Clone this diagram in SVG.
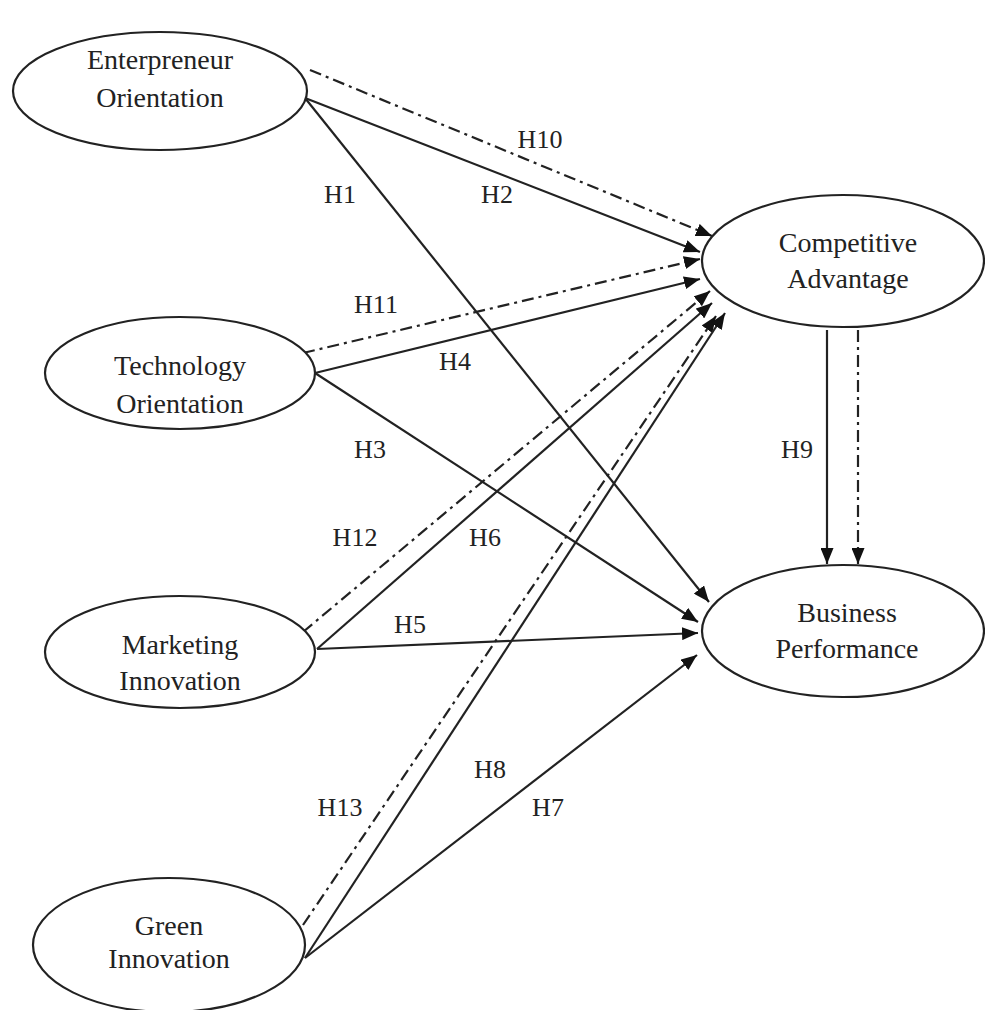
<svg xmlns="http://www.w3.org/2000/svg" width="985" height="1010" viewBox="0 0 985 1010">
<style>
.node ellipse{fill:#fff;stroke:#222;stroke-width:2.2}
.node text{font-family:"Liberation Serif","Times New Roman",serif;font-size:28px;fill:#222;text-anchor:middle}
.lbl{font-family:"Liberation Serif","Times New Roman",serif;font-size:26px;fill:#222;text-anchor:middle}
.s{stroke:#222;stroke-width:2.2;fill:none;marker-end:url(#ah)}
.d{stroke:#222;stroke-width:2.2;fill:none;stroke-dasharray:12 5 3 5;marker-end:url(#ah)}
</style>
<defs>
<marker id="ah" markerUnits="userSpaceOnUse" markerWidth="17" markerHeight="13" refX="16" refY="6.5" orient="auto" viewBox="0 0 17 13">
<path d="M0,0 L16,6.5 L0,13 z" fill="#111"/>
</marker>
</defs>
<rect width="985" height="1010" fill="#fff"/>
<g id="connectors">
<line class="d" x1="310" y1="70" x2="712" y2="236"/>
<line class="s" x1="305" y1="98" x2="700" y2="252"/>
<line class="s" x1="305" y1="98" x2="709" y2="602"/>
<line class="d" x1="303" y1="353" x2="700" y2="259"/>
<line class="s" x1="315" y1="373" x2="700" y2="279"/>
<line class="s" x1="315" y1="373" x2="698" y2="622"/>
<line class="d" x1="303" y1="632" x2="710" y2="291"/>
<line class="s" x1="317" y1="649" x2="712" y2="303"/>
<line class="s" x1="317" y1="649" x2="698" y2="633"/>
<line class="d" x1="303" y1="925" x2="716" y2="316"/>
<line class="s" x1="305" y1="958" x2="725" y2="313"/>
<line class="s" x1="305" y1="958" x2="697" y2="655"/>
<line class="s" x1="827" y1="330" x2="827" y2="564"/>
<line class="d" x1="858" y1="330" x2="858" y2="564"/>
</g>
<g id="labels">
<text class="lbl" x="540" y="148">H10</text>
<text class="lbl" x="340" y="203">H1</text>
<text class="lbl" x="497" y="203">H2</text>
<text class="lbl" x="376" y="313">H11</text>
<text class="lbl" x="455" y="370">H4</text>
<text class="lbl" x="370" y="458">H3</text>
<text class="lbl" x="797" y="458">H9</text>
<text class="lbl" x="355" y="546">H12</text>
<text class="lbl" x="485" y="546">H6</text>
<text class="lbl" x="410" y="633">H5</text>
<text class="lbl" x="490" y="778">H8</text>
<text class="lbl" x="340" y="816">H13</text>
<text class="lbl" x="548" y="816">H7</text>
</g>
<g id="eo" class="node">
<ellipse cx="160" cy="91" rx="147" ry="59"/>
<text x="160" y="69">Enterpreneur</text>
<text x="160" y="107">Orientation</text>
</g>
<g id="to" class="node">
<ellipse cx="180" cy="373" rx="135" ry="56"/>
<text x="180" y="375">Technology</text>
<text x="180" y="413">Orientation</text>
</g>
<g id="mi" class="node">
<ellipse cx="180" cy="652" rx="135" ry="56"/>
<text x="180" y="654">Marketing</text>
<text x="180" y="690">Innovation</text>
</g>
<g id="gi" class="node">
<ellipse cx="169" cy="945" rx="136" ry="67"/>
<text x="169" y="935">Green</text>
<text x="169" y="968">Innovation</text>
</g>
<g id="ca" class="node">
<ellipse cx="843" cy="261" rx="141" ry="66"/>
<text x="848" y="252">Competitive</text>
<text x="848" y="288">Advantage</text>
</g>
<g id="bp" class="node">
<ellipse cx="843" cy="631" rx="141" ry="66"/>
<text x="847" y="622">Business</text>
<text x="847" y="658">Performance</text>
</g>
</svg>
